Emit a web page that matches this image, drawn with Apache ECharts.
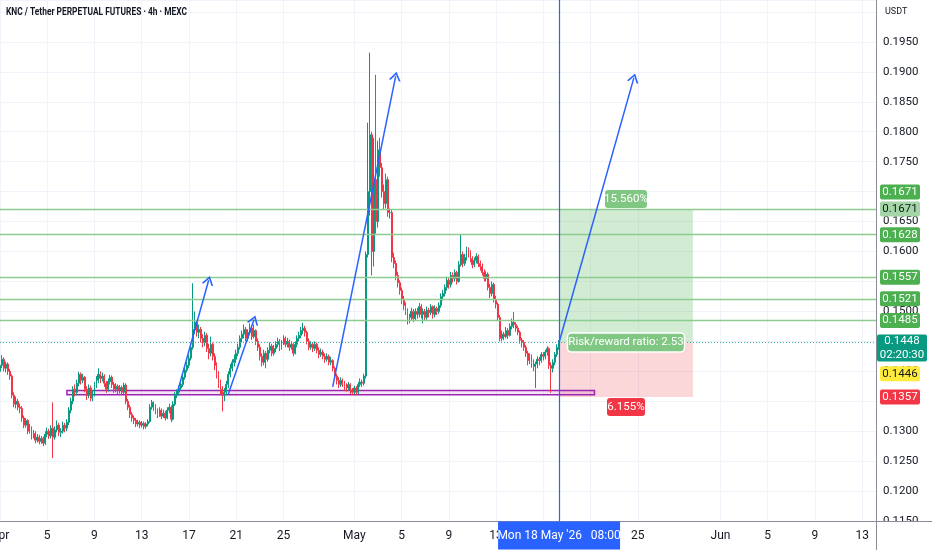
<!DOCTYPE html>
<html><head><meta charset="utf-8">
<script src="https://cdn.jsdelivr.net/npm/echarts@6/dist/echarts.min.js"></script>
<style>html,body{margin:0;padding:0;background:#fff}#c{width:932px;height:550px}</style>
</head><body><div id="c"></div>
<script>
// ---------- data ----------
const title = 'KNC / Tether PERPETUAL FUTURES \u00b7 4h \u00b7 MEXC';
const currency = 'USDT';
const startUTC = [2026, 3, 1];      // 2026-04-01 00:00, 4h candles
const slotCount = 446;             // visible time slots
const firstOpen = 0.1400;
const closes = [
.1410,.1420,.1405,.1412,.1400,.1392,.1360,.1345,.1350,.1340,
.1338,.1322,.1310,.1318,.1300,.1305,.1292,.1296,.1285,.1290,
.1283,.1288,.1280,.1295,.1300,.1292,.1305,.1290,.1302,.1310,
.1298,.1300,.1310,.1305,.1315,.1335,.1350,.1370,.1365,.1380,
.1395,.1385,.1390,.1370,.1360,.1372,.1355,.1362,.1378,.1385,
.1395,.1388,.1392,.1380,.1370,.1383,.1390,.1378,.1370,.1375,
.1368,.1373,.1365,.1377,.1350,.1340,.1328,.1322,.1318,.1312,
.1315,.1310,.1313,.1308,.1312,.1316,.1340,.1348,.1340,.1335,
.1328,.1335,.1325,.1330,.1322,.1335,.1340,.1320,.1345,.1360,
.1365,.1372,.1378,.1390,.1402,.1410,.1422,.1440,.1470,.1482,
.1465,.1470,.1455,.1448,.1460,.1438,.1430,.1445,.1425,.1410,
.1395,.1380,.1370,.1360,.1365,.1378,.1395,.1405,.1415,.1420,
.1430,.1440,.1455,.1462,.1470,.1455,.1465,.1472,.1458,.1468,
.1450,.1440,.1425,.1415,.1430,.1420,.1435,.1442,.1430,.1438,
.1445,.1450,.1440,.1448,.1455,.1445,.1450,.1440,.1445,.1430,
.1445,.1455,.1460,.1468,.1472,.1465,.1450,.1440,.1445,.1438,
.1445,.1435,.1428,.1432,.1425,.1420,.1425,.1415,.1418,.1405,
.1392,.1385,.1378,.1385,.1380,.1375,.1372,.1378,.1368,.1365,
.1372,.1365,.1378,.1382,.1380,.1392,.1595,.1700,.1795,.1600,
.1720,.1650,.1770,.1740,.1700,.1680,.1720,.1665,.1665,.1590,
.1580,.1560,.1548,.1535,.1520,.1510,.1500,.1485,.1490,.1500,
.1488,.1500,.1495,.1508,.1495,.1500,.1490,.1502,.1498,.1508,
.1495,.1505,.1500,.1510,.1525,.1530,.1540,.1552,.1545,.1560,
.1555,.1565,.1550,.1578,.1595,.1580,.1590,.1603,.1598,.1588,
.1578,.1585,.1592,.1580,.1575,.1565,.1555,.1562,.1540,.1530,
.1545,.1520,.1512,.1490,.1455,.1462,.1458,.1468,.1460,.1475,
.1482,.1478,.1472,.1465,.1452,.1448,.1440,.1430,.1418,.1425,
.1415,.1408,.1412,.1420,.1418,.1428,.1425,.1432,.1438,.1410,
.1405,.1415,.1428,.1440,.1448];
const highs = [
.1418,.1427,.1423,.1416,.1415,.1404,.1395,.1365,.1358,.1354,
.1346,.1342,.1326,.1322,.1320,.1312,.1308,.1302,.1300,.1295,
.1294,.1292,.1291,.1300,.1306,.1304,.1310,.1348,.1308,.1318,
.1314,.1305,.1316,.1314,.1320,.1340,.1356,.1375,.1378,.1386,
.1399,.1398,.1396,.1392,.1375,.1378,.1376,.1368,.1382,.1392,
.1405,.1400,.1398,.1395,.1384,.1388,.1394,.1393,.1382,.1380,
.1378,.1377,.1376,.1381,.1380,.1354,.1344,.1332,.1326,.1322,
.1319,.1318,.1317,.1316,.1315,.1320,.1345,.1352,.1350,.1345,
.1338,.1340,.1338,.1336,.1334,.1340,.1346,.1343,.1350,.1365,
.1370,.1376,.1383,.1395,.1406,.1416,.1428,.1446,.1547,.1500,
.1486,.1478,.1474,.1462,.1466,.1464,.1446,.1458,.1448,.1430,
.1415,.1400,.1386,.1375,.1372,.1384,.1400,.1412,.1420,.1428,
.1436,.1446,.1460,.1468,.1478,.1474,.1470,.1480,.1476,.1478,
.1470,.1455,.1445,.1430,.1436,.1434,.1440,.1448,.1446,.1444,
.1450,.1456,.1454,.1452,.1460,.1458,.1456,.1453,.1450,.1448,
.1450,.1460,.1466,.1474,.1481,.1476,.1468,.1455,.1450,.1448,
.1450,.1448,.1440,.1438,.1436,.1430,.1430,.1428,.1424,.1420,
.1408,.1396,.1390,.1390,.1388,.1384,.1380,.1382,.1380,.1372,
.1376,.1375,.1382,.1388,.1386,.1396,.1600,.1815,.1932,.1800,
.1790,.1895,.1785,.1790,.1748,.1712,.1730,.1725,.1672,.1670,
.1598,.1585,.1566,.1552,.1540,.1526,.1515,.1505,.1496,.1506,
.1504,.1505,.1506,.1514,.1512,.1505,.1504,.1508,.1506,.1512,
.1510,.1510,.1508,.1515,.1530,.1536,.1545,.1558,.1556,.1566,
.1565,.1570,.1568,.1584,.1628,.1600,.1596,.1608,.1607,.1602,
.1592,.1590,.1597,.1595,.1585,.1580,.1570,.1567,.1565,.1546,
.1550,.1548,.1526,.1515,.1494,.1468,.1466,.1474,.1472,.1480,
.1488,.1499,.1482,.1476,.1468,.1456,.1452,.1444,.1434,.1430,
.1428,.1420,.1416,.1425,.1424,.1432,.1432,.1436,.1442,.1440,
.1415,.1420,.1432,.1445,.1452];
const lows = [
.1395,.1405,.1400,.1398,.1394,.1386,.1355,.1340,.1338,.1335,
.1330,.1316,.1305,.1306,.1295,.1296,.1286,.1288,.1280,.1281,
.1278,.1279,.1275,.1277,.1290,.1287,.1288,.1255,.1286,.1298,
.1292,.1290,.1296,.1298,.1300,.1310,.1330,.1345,.1358,.1360,
.1375,.1378,.1380,.1365,.1352,.1355,.1350,.1350,.1358,.1372,
.1380,.1380,.1383,.1374,.1364,.1366,.1378,.1372,.1364,.1365,
.1362,.1363,.1360,.1362,.1345,.1335,.1322,.1316,.1312,.1307,
.1308,.1305,.1306,.1303,.1304,.1308,.1314,.1336,.1334,.1328,
.1322,.1324,.1320,.1322,.1318,.1320,.1330,.1315,.1318,.1342,
.1355,.1360,.1368,.1374,.1386,.1398,.1405,.1418,.1436,.1462,
.1458,.1455,.1448,.1440,.1442,.1432,.1420,.1425,.1418,.1402,
.1388,.1372,.1362,.1333,.1350,.1360,.1372,.1390,.1400,.1408,
.1414,.1425,.1436,.1448,.1455,.1450,.1450,.1460,.1452,.1455,
.1444,.1434,.1418,.1408,.1410,.1405,.1416,.1430,.1425,.1426,
.1432,.1440,.1434,.1436,.1444,.1440,.1440,.1434,.1436,.1425,
.1428,.1440,.1450,.1455,.1462,.1458,.1445,.1435,.1436,.1432,
.1434,.1430,.1422,.1424,.1420,.1414,.1416,.1410,.1410,.1400,
.1386,.1378,.1372,.1374,.1374,.1368,.1366,.1368,.1362,.1360,
.1362,.1360,.1362,.1374,.1374,.1376,.1388,.1590,.1660,.1560,
.1575,.1630,.1640,.1725,.1690,.1670,.1672,.1658,.1655,.1582,
.1572,.1552,.1540,.1528,.1512,.1502,.1494,.1478,.1480,.1484,
.1482,.1484,.1488,.1490,.1488,.1480,.1484,.1486,.1490,.1494,
.1488,.1490,.1494,.1496,.1506,.1518,.1525,.1535,.1538,.1540,
.1548,.1550,.1545,.1548,.1575,.1574,.1576,.1585,.1590,.1582,
.1572,.1574,.1580,.1574,.1568,.1560,.1550,.1550,.1535,.1522,
.1525,.1515,.1505,.1485,.1450,.1450,.1452,.1455,.1454,.1458,
.1470,.1472,.1466,.1460,.1446,.1440,.1434,.1424,.1410,.1412,
.1406,.1400,.1372,.1405,.1410,.1414,.1418,.1420,.1426,.1404,
.1364,.1398,.1410,.1424,.1436];

// x-axis tick days per month (1 = month name)
const tickMonths = [4, 5, 6];
const tickDays = [[1,5,9,13,17,21,25],[1,5,9,13,17,21,25],[1,5,9,13]];
const monthNames = ['Jan','Feb','Mar','Apr','May','Jun'];

// horizontal levels
const levelPrices = [0.1671, 0.1628, 0.1557, 0.1521, 0.1485];
const lastPrice = 0.1448;
const countdown = '02:20:30';
const otherPrice = 0.1446;

// support zone
const zoneStart = '2026-04-06 16:00', zoneEnd = '2026-05-21 08:00';
const zoneTop = 0.1368, zoneBottom = 0.1361;

// long position tool
const posStart = '2026-05-18 08:00', posEnd = '2026-05-29 16:00';
const posEntry = 0.1448, posTarget = 0.1671, posStop = 0.1357;
const posTargetPct = '15.560%', posStopPct = '6.155%', posRatio = 'Risk/reward ratio: 2.53';

// cursor
const cursorTime = '2026-05-18 08:00';
const cursorLabel = "Mon 18 May '26   08:00";

// arrows: start/end time and price
const arrowStartTimes = ['2026-04-16 00:00','2026-04-20 08:00','2026-04-29 04:00','2026-05-18 08:00'];
const arrowStartPrices = [0.1364, 0.1362, 0.1374, 0.1448];
const arrowEndTimes = ['2026-04-18 16:00','2026-04-22 12:00','2026-05-04 12:00','2026-05-24 16:00'];
const arrowEndPrices = [0.1552, 0.1486, 0.1893, 0.1890];

// ---------- build ----------
const cats = [];
const t0 = Date.UTC(startUTC[0], startUTC[1], startUTC[2]);
for (let k = 0; k < slotCount; k++) {
  const d = new Date(t0 + k * 4 * 3600e3);
  cats.push(d.toISOString().slice(0, 16).replace('T', ' '));
}
function parts(s){ return {m:+s.slice(5,7), d:+s.slice(8,10), h:+s.slice(11,13)}; }
function isTick(idx){
  const p = parts(cats[idx]);
  if (p.h !== 0) return false;
  const mi = tickMonths.indexOf(p.m);
  return mi >= 0 && tickDays[mi].indexOf(p.d) >= 0;
}
const ohlc = closes.map((c, i) => [i === 0 ? firstOpen : closes[i-1], c, lows[i], highs[i]]);

const UP = '#089981', DOWN = '#f23645', BLUE = '#2962ff';
const FONT = 'Roboto, "Liberation Sans", sans-serif';
const chevron = 'path://M0,10 L5,0 L10,10 L8.4,10 L5,3.2 L1.6,10 Z';

const arrowData = arrowStartTimes.map((t, i) => [
  {coord: [t, arrowStartPrices[i]], symbol: 'none'},
  {coord: [arrowEndTimes[i], arrowEndPrices[i]], symbol: chevron, symbolSize: [12, 9]}
]);

const chart = echarts.init(document.getElementById('c'));
chart.setOption({
  animation: false,
  backgroundColor: '#ffffff',
  grid: {left: 0, right: 56, top: 0, bottom: 29, containLabel: false, outerBoundsMode: 'none'},
  xAxis: {
    type: 'category', data: cats, boundaryGap: false,
    axisLine: {show: false}, axisTick: {show: false},
    axisLabel: {
      interval: (idx) => isTick(idx), margin: 9, hideOverlap: false,
      color: '#131722', fontSize: 12, fontFamily: FONT,
      formatter: (v) => { const p = parts(v); return p.d === 1 ? monthNames[p.m-1] : String(p.d); }
    },
    splitLine: {show: true, interval: (idx) => isTick(idx), lineStyle: {color: '#f0f3fa', width: 1}}
  },
  yAxis: {
    type: 'value', position: 'right', min: 0.115, max: 0.202, interval: 0.005,
    axisLine: {show: false}, axisTick: {show: false},
    axisLabel: {
      color: '#131722', fontSize: 11.5, fontFamily: FONT, margin: 7,
      formatter: (v) => {
        const r = Math.round(v * 10000) / 10000;
        if (Math.abs(r * 200 - Math.round(r * 200)) > 1e-6 || r > 0.1995) return '';
        return r.toFixed(4);
      }
    },
    splitLine: {show: true, lineStyle: {color: '#f0f3fa', width: 1}}
  },
  series: [
    {
      type: 'candlestick', data: ohlc, barWidth: 1.4, z: 3,
      itemStyle: {color: UP, color0: DOWN, borderColor: UP, borderColor0: DOWN, borderWidth: 1},
      markArea: {
        silent: true,
        data: [
          [{xAxis: posStart, yAxis: posTarget, itemStyle: {color: 'rgba(76,175,80,0.25)'}}, {xAxis: posEnd, yAxis: posEntry}],
          [{xAxis: posStart, yAxis: posEntry, itemStyle: {color: 'rgba(242,54,69,0.2)'}}, {xAxis: posEnd, yAxis: posStop}],
          [{xAxis: zoneStart, yAxis: zoneTop, itemStyle: {color: 'rgba(156,39,176,0.12)', borderColor: '#9c27b0', borderWidth: 1.5}}, {xAxis: zoneEnd, yAxis: zoneBottom}]
        ]
      }
    },
    {
      type: 'line', data: [], silent: true, z: 4,
      markLine: {
        silent: true, symbol: 'none', label: {show: false}, precision: 6,
        lineStyle: {color: '#8dcb90', width: 1.3, type: 'solid'},
        data: levelPrices.map(p => ({yAxis: p}))
      }
    },
    {
      type: 'line', data: [], silent: true, z: 4,
      markLine: {
        silent: true, symbol: 'none', label: {show: false}, precision: 6,
        lineStyle: {color: '#3bb3a0', width: 1, type: [1, 2]},
        data: [{yAxis: lastPrice}]
      }
    },
    {
      type: 'line', data: [], silent: true, z: 5,
      markLine: {
        silent: true, symbol: 'none', label: {show: false}, precision: 6,
        lineStyle: {color: BLUE, width: 1.2, type: 'solid'},
        data: [{xAxis: cursorTime}]
      }
    },
    {
      type: 'line', data: [], silent: true, z: 5,
      markLine: {
        silent: true, label: {show: false}, precision: 6,
        lineStyle: {color: BLUE, width: 1.5, type: 'solid'},
        itemStyle: {color: BLUE},
        symbol: ['none', chevron], symbolSize: [12, 9],
        data: arrowData
      }
    }
  ]
});

// ---------- overlay labels placed through the scales ----------
const py = (p) => chart.convertToPixel({yAxisIndex: 0}, p);
const px = (t) => chart.convertToPixel({xAxisIndex: 0}, t);
const g = [];
function tag(xl, yc, w, h, bg, fg, txt, extra) {
  g.push({type: 'rect', z: 100, shape: {x: xl, y: yc - h/2, width: w, height: h, r: (extra && extra.r !== undefined) ? extra.r : 2},
          style: {fill: bg, stroke: (extra && extra.stroke) || null, lineWidth: (extra && extra.lw) || 0}});
  g.push({type: 'text', z: 101, x: xl + w/2, y: yc,
          style: {text: txt, fill: fg, font: ((extra && extra.fs) || 11.5) + 'px ' + FONT, align: 'center', verticalAlign: 'middle', lineHeight: 14}});
}
const AX = 880, AW = 40, AH = 15;
g.push({type: 'rect', z: 90, shape: {x: 877, y: 522, width: 55, height: 28}, style: {fill: '#fff'}});
g.push({type: 'line', z: 95, shape: {x1: 876.5, y1: 0, x2: 876.5, y2: 550}, style: {stroke: '#8a8d96', lineWidth: 1}});
g.push({type: 'line', z: 95, shape: {x1: 0, y1: 521.5, x2: 932, y2: 521.5}, style: {stroke: '#8a8d96', lineWidth: 1}});
tag(AX, py(posTarget) - 17, AW, AH, '#4caf50', '#fff', posTarget.toFixed(4));
tag(AX, py(levelPrices[0]), AW, AH, '#a5d6a7', '#131722', levelPrices[0].toFixed(4));
levelPrices.slice(1).forEach(p => tag(AX, py(p), AW, AH, '#4caf50', '#fff', p.toFixed(4)));
tag(877, py(lastPrice) + 5.5, 50, 27, UP, '#fff', lastPrice.toFixed(4) + '\n' + countdown);
tag(AX, py(otherPrice) + 30, AW, AH, '#ffeb3b', '#131722', otherPrice.toFixed(4));
tag(AX, py(posStop), AW, AH, DOWN, '#fff', posStop.toFixed(4));
const pcx = (px(posStart) + px(posEnd)) / 2;
tag(pcx - 21, py(posTarget) - 10, 42, 18, '#81c784', '#fff', posTargetPct, {r: 3});
tag(pcx - 58.5, py(posEntry), 117, 19, '#81c784', '#fff', posRatio, {r: 4, stroke: '#fff', lw: 1.5});
tag(pcx - 19, py(posStop) + 10, 38, 18, DOWN, '#fff', posStopPct, {r: 3});
const cx = px(cursorTime);
tag(cx - 61, 535.5, 122, 28, BLUE, '#fff', cursorLabel, {r: 0, fs: 12});
const ctx = document.createElement('canvas').getContext('2d');
ctx.font = 'bold 10.5px ' + FONT;
const tw = ctx.measureText(title).width;
g.push({type: 'text', z: 101, x: 6, y: 12, scaleX: Math.min(1, 181 / tw),
        style: {text: title, fill: '#131722', font: 'bold 10.5px ' + FONT, align: 'left', verticalAlign: 'middle'}});
g.push({type: 'text', z: 101, x: 885, y: 12,
        style: {text: currency, fill: '#131722', font: '9px ' + FONT, align: 'left', verticalAlign: 'middle'}});
chart.setOption({graphic: g});
</script>
</body></html>
